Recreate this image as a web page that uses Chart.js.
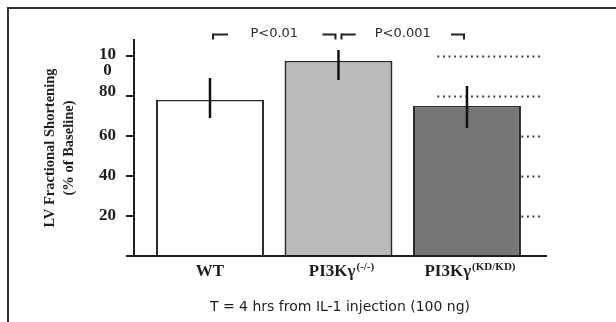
<!DOCTYPE html>
<html>
<head>
<meta charset="utf-8">
<script src="https://cdn.jsdelivr.net/npm/chart.js@4/dist/chart.umd.min.js"></script>
<style>
  html, body { margin: 0; padding: 0; background: #fff; }
  #wrap { position: relative; width: 616px; height: 322px; overflow: hidden; }
  #frame { position: absolute; left: 7px; top: 7px; right: -4px; bottom: -4px;
           border-left: 2px solid #333; border-top: 2px solid #333; pointer-events: none; }
  canvas { display: block; }
</style>
</head>
<body>
<div id="wrap">
  <canvas id="c" width="616" height="322"></canvas>
  <div id="frame"></div>
</div>
<script>
// Groups and their superscript genotype tags
const groupNames = ['WT', 'PI3Kγ', 'PI3Kγ'];
const groupTags  = ['', '(-/-)', '(KD/KD)'];

// LV fractional shortening, % of baseline (mean and error-bar ends)
const meanFS    = [78, 97.5, 75];
const errHighFS = [89, 103, 85];
const errLowFS  = [69, 88, 64];

// Y axis tick values and the text printed next to them
const yTickValues = [20, 40, 60, 80, 100];
const yTickText   = ['20', '40', '60', '80', '100'];

// Significance comparisons: [from group, to group, label]
const compFrom   = [0, 1];
const compTo     = [1, 2];
const compLabels = ['P<0.01', 'P<0.001'];

const barFills = ['#ffffff', '#bababa', '#767676'];

const SERIF = '"Liberation Serif", "Times New Roman", serif';
const SANS  = '"DejaVu Sans", Verdana, sans-serif';

const decorPlugin = {
  id: 'decor',
  beforeDatasetsDraw(chart) {
    // dotted reference lines on the right side, partly hidden behind the last bar
    const {ctx, scales: {x, y}} = chart;
    const x0 = x.getPixelForValue(1.77), x1 = x.getPixelForValue(2.58);
    ctx.save();
    ctx.strokeStyle = '#333';
    ctx.lineWidth = 1.8;
    ctx.setLineDash([1.8, 3.8]);
    yTickValues.forEach(v => {
      const py = Math.round(y.getPixelForValue(v)) + 0.5;
      ctx.beginPath(); ctx.moveTo(x0, py); ctx.lineTo(x1, py); ctx.stroke();
    });
    ctx.restore();
  },
  afterDatasetsDraw(chart) {
    const {ctx, scales: {x, y}} = chart;
    ctx.save();
    // error bars
    ctx.strokeStyle = '#111';
    ctx.lineWidth = 2.5;
    meanFS.forEach((m, i) => {
      const px = x.getPixelForValue(i);
      ctx.beginPath();
      ctx.moveTo(px, y.getPixelForValue(errHighFS[i]));
      ctx.lineTo(px, y.getPixelForValue(errLowFS[i]));
      ctx.stroke();
    });
    ctx.restore();
  },
  afterDraw(chart) {
    const {ctx, scales: {x, y}} = chart;
    ctx.save();

    // y tick labels ("100" wraps onto two lines in the narrow gutter)
    ctx.fillStyle = '#1e1e1e';
    ctx.font = 'bold 17px ' + SERIF;
    ctx.textBaseline = 'middle';
    const rightEdge = y.right - 18;
    yTickValues.forEach((v, i) => {
      const py = y.getPixelForValue(v);
      const t = yTickText[i];
      if (t.length > 2) {
        const head = t.slice(0, 2), tail = t.slice(2);
        ctx.textAlign = 'right';
        ctx.fillText(head, rightEdge, py - 1.5);
        const w = ctx.measureText(head).width;
        ctx.textAlign = 'center';
        ctx.fillText(tail, rightEdge - w / 2, py + 15);
      } else {
        ctx.textAlign = 'right';
        const nudge = (v === 80) ? -4.5 : 0;
        ctx.fillText(t, rightEdge, py + nudge);
      }
    });

    // group labels with superscript tags
    const labelY = y.bottom + 16;
    groupNames.forEach((name, i) => {
      const cx = x.getPixelForValue(i);
      ctx.font = 'bold 17px ' + SERIF;
      const w1 = ctx.measureText(name).width;
      ctx.font = 'bold 11px ' + SERIF;
      const w2 = groupTags[i] ? ctx.measureText(groupTags[i]).width + 1 : 0;
      const start = cx - (w1 + w2) / 2 + (w2 ? 3 : 0);
      ctx.textAlign = 'left';
      ctx.textBaseline = 'middle';
      ctx.font = 'bold 17px ' + SERIF;
      ctx.fillText(name, start, labelY);
      if (groupTags[i]) {
        ctx.font = 'bold 11px ' + SERIF;
        ctx.fillText(groupTags[i], start + w1 + 1, labelY - 5);
      }
    });

    // significance brackets
    ctx.strokeStyle = '#222';
    ctx.fillStyle = '#2a2a2a';
    ctx.lineWidth = 2;
    ctx.font = '13px ' + SANS;
    ctx.textAlign = 'center';
    ctx.textBaseline = 'middle';
    const by = Math.round(y.getPixelForValue(111)) + 0.5;
    const tickEnd = y.getPixelForValue(108.3);
    compFrom.forEach((a, k) => {
      const xa = x.getPixelForValue(a) + 3;
      const xb = x.getPixelForValue(compTo[k]) - 3;
      const mid = (xa + xb) / 2;
      const half = ctx.measureText(compLabels[k]).width / 2 + 19;
      ctx.beginPath();
      ctx.moveTo(xa, tickEnd); ctx.lineTo(xa, by); ctx.lineTo(Math.min(xa + 15, mid - half), by);
      ctx.moveTo(Math.max(xb - 13, mid + half), by); ctx.lineTo(xb, by); ctx.lineTo(xb, tickEnd);
      ctx.stroke();
      ctx.fillText(compLabels[k], mid, by - 1);
    });
    ctx.restore();
  }
};

new Chart(document.getElementById('c'), {
  type: 'bar',
  data: {
    datasets: [{
      data: meanFS.map((v, i) => ({x: i, y: v})),
      backgroundColor: barFills,
      borderColor: '#2a2a2a',
      borderWidth: {top: 1.5, left: 2, right: 2, bottom: 0},
      borderSkipped: false,
      barPercentage: 0.84,
      categoryPercentage: 1
    }]
  },
  options: {
    responsive: false,
    animation: false,
    devicePixelRatio: 1,
    layout: {padding: {top: 40, right: 70, left: 0, bottom: 0}},
    plugins: {legend: {display: false}, tooltip: {enabled: false}},
    scales: {
      x: {
        type: 'linear',
        offset: false,
        min: -0.5914,
        max: 2.615,
        afterFit: s => { s.height = 66; },
        afterBuildTicks: s => { s.ticks = groupNames.map((n, i) => ({value: i})); },
        ticks: {display: false},
        grid: {display: true, offset: false, drawOnChartArea: false, drawTicks: false},
        border: {display: true, color: '#1e1e1e', width: 2},
        title: {
          display: true,
          text: 'T = 4 hrs from IL-1 injection (100 ng)',
          color: '#1e1e1e',
          font: {family: SANS, size: 14},
          padding: {top: 0, bottom: 6}
        }
      },
      y: {
        min: 0,
        max: 108,
        afterFit: s => { s.width = 134; },
        ticks: {display: false, stepSize: 20},
        afterBuildTicks: s => { s.ticks = [0].concat(yTickValues).map(v => ({value: v})); },
        grid: {display: true, drawOnChartArea: false, drawTicks: true, tickLength: 8, color: '#1e1e1e', lineWidth: 2},
        border: {display: true, color: '#1e1e1e', width: 2},
        title: {
          display: true,
          text: ['LV Fractional Shortening', '(% of Baseline)'],
          color: '#1e1e1e',
          font: {family: SERIF, size: 14.5, weight: 'bold', lineHeight: 1.3},
          padding: {top: 41, bottom: 0}
        }
      }
    }
  },
  plugins: [decorPlugin]
});
</script>
</body>
</html>
